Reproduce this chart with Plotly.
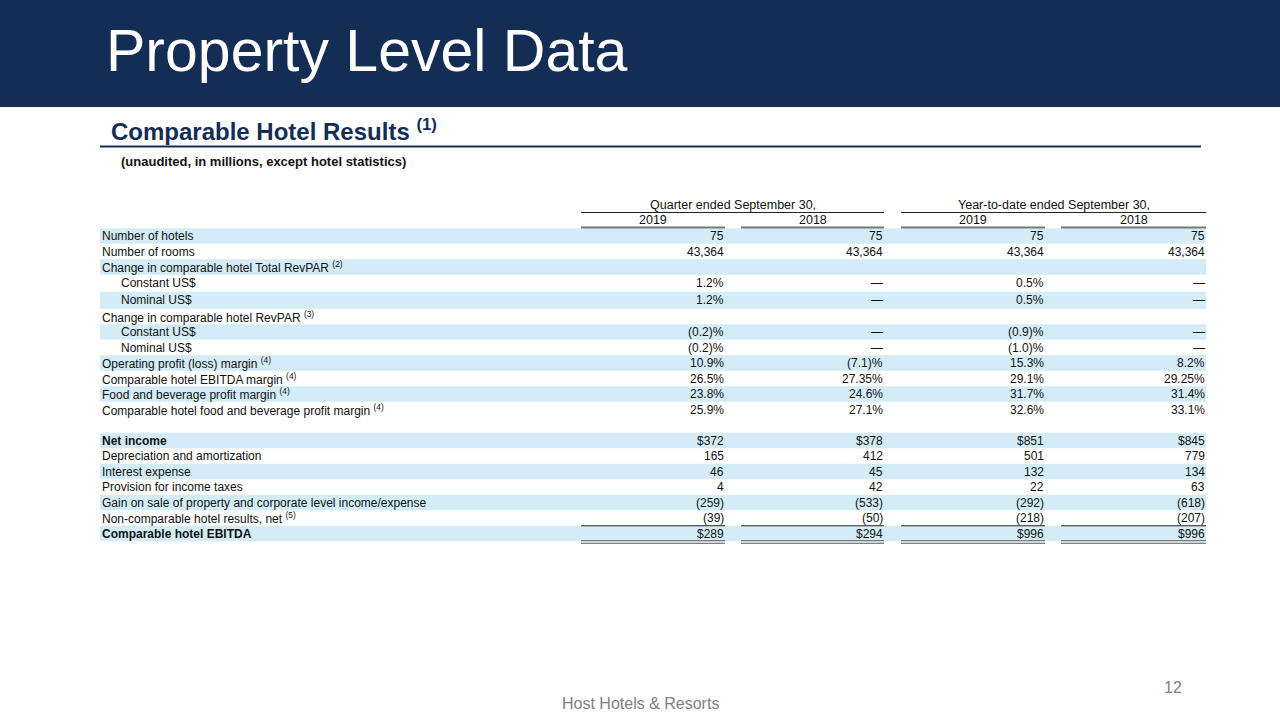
import plotly.graph_objects as go

# ---------------- data ----------------
title_text = "Property Level Data"
section_title = "Comparable Hotel Results"
section_note = "(1)"
subtitle_text = "(unaudited, in millions, except hotel statistics)"
group_headers = ["Quarter ended September 30,", "Year-to-date ended September 30,"]
year_headers = ["2019", "2018", "2019", "2018"]

row_labels = [
    "Number of hotels",
    "Number of rooms",
    "Change in comparable hotel Total RevPAR <sup>(2)</sup>",
    "Constant US$",
    "Nominal US$",
    "Change in comparable hotel RevPAR <sup>(3)</sup>",
    "Constant US$",
    "Nominal US$",
    "Operating profit (loss) margin <sup>(4)</sup>",
    "Comparable hotel EBITDA margin <sup>(4)</sup>",
    "Food and beverage profit margin <sup>(4)</sup>",
    "Comparable hotel food and beverage profit margin <sup>(4)</sup>",
    "",
    "Net income",
    "Depreciation and amortization",
    "Interest expense",
    "Provision for income taxes",
    "Gain on sale of property and corporate level income/expense",
    "Non-comparable hotel results, net <sup>(5)</sup>",
    "Comparable hotel EBITDA",
]
q3_2019 = ["75", "43,364", "", "1.2%", "1.2%", "", "(0.2)%", "(0.2)%", "10.9%", "26.5%", "23.8%", "25.9%", "",
           "$372", "165", "46", "4", "(259)", "(39)", "$289"]
q3_2018 = ["75", "43,364", "", "—", "—", "", "—", "—", "(7.1)%", "27.35%", "24.6%", "27.1%", "",
           "$378", "412", "45", "42", "(533)", "(50)", "$294"]
ytd_2019 = ["75", "43,364", "", "0.5%", "0.5%", "", "(0.9)%", "(1.0)%", "15.3%", "29.1%", "31.7%", "32.6%", "",
            "$851", "501", "132", "22", "(292)", "(218)", "$996"]
ytd_2018 = ["75", "43,364", "", "—", "—", "", "—", "—", "8.2%", "29.25%", "31.4%", "33.1%", "",
            "$845", "779", "134", "63", "(618)", "(207)", "$996"]
footer_text = "Host Hotels & Resorts"
page_number = "12"

# ---------------- layout helpers ----------------
NAVY = "#142D55"
BAND = "#D3ECF8"
TXT = "#111111"
FONT = "Liberation Sans, Arial, sans-serif"
indent_rows = {3, 4, 6, 7}
bold_rows = {13, 19}
tall_rows = {3, 4}

col_left = [581, 741, 901, 1061]
col_right = [725, 884, 1045, 1206]
table_left, table_right = 100, 1206

heights = [17 if i in tall_rows else 15.5 for i in range(len(row_labels))]
centers = []
c = 236.0
for i, h in enumerate(heights):
    if i > 0:
        c += (heights[i - 1] + h) / 2
    centers.append(c)

shapes = []
annotations = []


def text(x, y, s, size, color=TXT, anchor="left"):
    annotations.append(dict(x=x, y=y, xref="x", yref="y", text=s, showarrow=False,
                            xanchor=anchor, yanchor="middle",
                            font=dict(family=FONT, size=size, color=color)))


def hline(x0, x1, y, color, width):
    shapes.append(dict(type="line", xref="x", yref="y", x0=x0, x1=x1, y0=y, y1=y,
                       line=dict(color=color, width=width)))


# title bar
shapes.append(dict(type="rect", xref="x", yref="y", x0=0, x1=1280, y0=0, y1=107,
                   fillcolor=NAVY, line=dict(width=0), layer="below"))
text(104, 51, title_text, 59, "white")
# section title
text(109, 130, "<b>%s</b> <b><sup>%s</sup></b>" % (section_title, section_note), 24, NAVY)
hline(100, 1201, 146.5, NAVY, 2)
text(119, 161, "<b>%s</b>" % subtitle_text, 13)

# row bands (alternating, blank spacer rows skipped)
k_band = 0
for i, lab in enumerate(row_labels):
    if lab == "":
        continue
    if k_band % 2 == 0:
        shapes.append(dict(type="rect", xref="x", yref="y", x0=table_left, x1=table_right,
                           y0=centers[i] - heights[i] / 2, y1=centers[i] + heights[i] / 2,
                           fillcolor=BAND, line=dict(width=0), layer="below"))
    k_band += 1

# column headers
for g, txt in enumerate(group_headers):
    x0, x1 = col_left[2 * g], col_right[2 * g + 1]
    text((x0 + x1) / 2, 205, txt, 12.5, anchor="center")
    hline(x0, x1, 212.5, "#222222", 1)
for k, txt in enumerate(year_headers):
    text((col_left[k] + col_right[k]) / 2, 220, txt, 12.5, anchor="center")
    hline(col_left[k], col_right[k], 227.5, "#777777", 2)

# row labels and values
columns = [q3_2019, q3_2018, ytd_2019, ytd_2018]
for i, lab in enumerate(row_labels):
    if lab:
        s = "<b>%s</b>" % lab if i in bold_rows else lab
        text(119 if i in indent_rows else 100, centers[i], s, 12)
    for k, col in enumerate(columns):
        if col[i]:
            text(col_right[k] + 1, centers[i], col[i], 12, anchor="right")

# total lines
last = len(row_labels) - 1
for k in range(4):
    hline(col_left[k], col_right[k], centers[last] - heights[last] / 2, "#222222", 1)
    yb = centers[last] + heights[last] / 2
    for dy in (-0.5, 2.0):
        hline(col_left[k], col_right[k], yb + dy, "#555555", 1)

# footer
text(640, 703, footer_text, 16, "#808080", anchor="center")
text(1184, 687, page_number, 16, "#808080", anchor="right")

fig = go.Figure()
fig.add_trace(go.Scatter(x=[0, 1280], y=[0, 720], mode="markers", marker=dict(opacity=0),
                         hoverinfo="skip", showlegend=False))
fig.update_layout(
    width=1280, height=720, margin=dict(l=0, r=0, t=0, b=0),
    paper_bgcolor="white", plot_bgcolor="white",
    xaxis=dict(range=[0, 1280], visible=False, fixedrange=True),
    yaxis=dict(range=[720, 0], visible=False, fixedrange=True),
    shapes=shapes, annotations=annotations, showlegend=False,
)
fig.write_html("out.html", config={"displayModeBar": False},
               post_script="document.body.style.margin='0';document.body.style.overflow='hidden';")
